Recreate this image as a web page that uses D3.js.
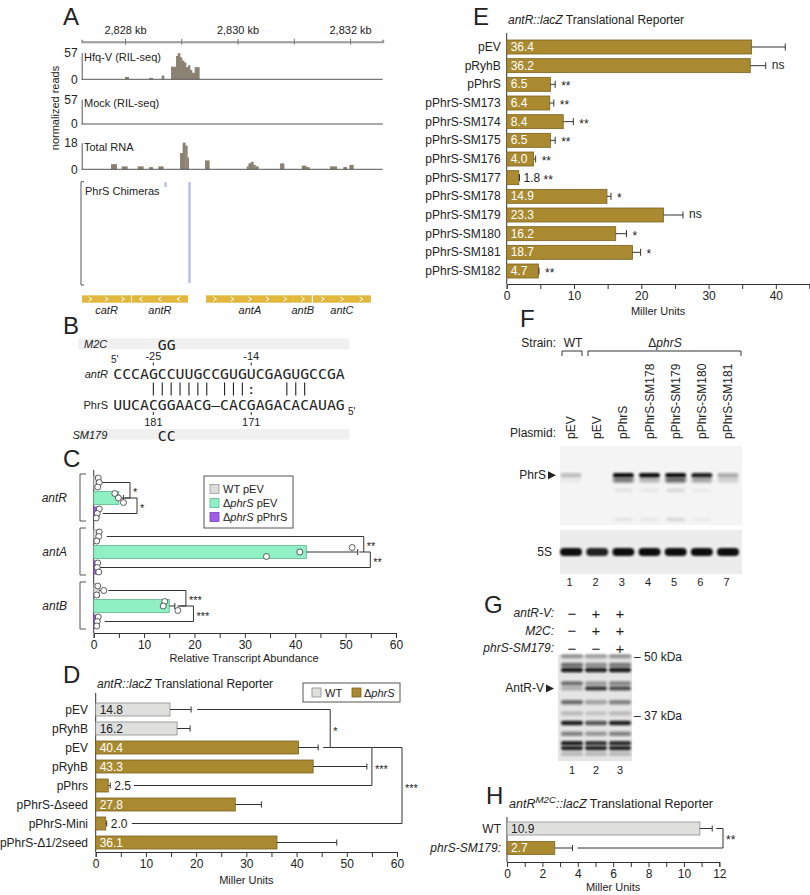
<!DOCTYPE html>
<html><head><meta charset="utf-8">
<script src="https://cdn.jsdelivr.net/npm/d3@7/dist/d3.min.js"></script>
<style>html,body{margin:0;padding:0;background:#fff;}svg{display:block;}</style>
</head><body>
<svg id="fig" width="810" height="895" xmlns="http://www.w3.org/2000/svg"></svg>
<script>
// ================= DATA =================
// Panel A – genome browser
const kbTicks = [2828, 2829, 2830, 2831, 2832];
const kbLabelTicks = [2828, 2830, 2832];
const trackNames = ["Hfq-V (RIL-seq)", "Mock (RIL-seq)", "Total RNA"];
const trackMax = [57, 57, 18];
const hfqStart = [2828.000, 2828.427, 2828.652, 2828.818, 2828.907, 2828.936, 2828.978, 2829.013, 2829.049, 2829.084, 2829.120, 2829.156, 2829.191, 2829.238];
const hfqEnd   = [2828.065, 2828.492, 2828.693, 2828.907, 2828.936, 2828.978, 2829.013, 2829.049, 2829.084, 2829.120, 2829.156, 2829.191, 2829.238, 2829.321];
const hfqReads = [5, 3, 8, 27, 50, 56, 47, 40, 36, 26, 30, 20, 14, 26];
const mockStart = [], mockEnd = [], mockReads = [];
const totStart = [2827.751, 2827.941, 2828.225, 2828.427, 2828.593, 2828.978, 2829.025, 2829.073, 2829.108, 2829.422, 2830.163, 2830.193, 2830.234, 2830.281, 2830.317, 2830.756, 2831.141, 2831.218, 2831.644, 2831.881, 2831.988];
const totEnd   = [2827.852, 2828.041, 2828.326, 2828.492, 2828.681, 2829.025, 2829.073, 2829.108, 2829.132, 2829.499, 2830.193, 2830.234, 2830.281, 2830.317, 2830.370, 2830.827, 2831.218, 2831.277, 2831.763, 2831.941, 2832.059];
const totReads = [3.5, 2, 2, 1.5, 2, 11, 18, 16, 8, 6, 2, 4, 5, 3, 2, 4, 2.5, 1.5, 2, 1.5, 3];
const chimeraKb = [2828.72, 2829.145];
const chimeraCount = [1, 20];
const geneNames = ["catR", "antR", "antA", "antB", "antC"];
const geneStart = [2827.236, 2828.120, 2829.440, 2831.000, 2831.340];
const geneEnd   = [2828.107, 2829.120, 2831.000, 2831.320, 2832.370];
const geneStrand = [1, -1, 1, 1, 1];

// Panel B – base pairing
const seqAntR = "CCCAGCCUUGCCGUGUCGAGUGCCGA";
const seqPhrS = "UUCACGGAACG–CACGAGACACAUAG";
const pairIdx = [4, 5, 6, 7, 8, 9, 10, 12, 13, 14, 19, 20, 21];
const wobbleIdx = [15];
const antRPosIdx = [4, 15], antRPosLab = ["-25", "-14"];
const phrSPosIdx = [4, 15], phrSPosLab = ["181", "171"];
const mutIdx = [5, 6];
const mutM2C = "GG", mutSM179 = "CC";

// Panel C – qRT-PCR
const cGenes = ["antR", "antA", "antB"];
const cSeries = ["WT pEV", "ΔphrS pEV", "ΔphrS pPhrS"];
const cMean = [[1.0, 5.0, 0.8], [0.9, 42.2, 0.8], [1.1, 15.0, 0.7]];
const cErr  = [[0.2, 0.9, 0.3], [0.3, 10.2, 0.2], [0.7, 1.1, 0.2]];
const cPts = [
  [[0.9, 1.1, 0.8], [4.2, 4.9, 5.9], [1.1, 0.7, 0.5]],
  [[1.1, 1.0, 0.6], [51.3, 40.9, 34.3], [0.8, 0.7, 1.0]],
  [[0.8, 2.0, 0.6], [14.1, 13.8, 16.7], [0.9, 0.7, 0.6]]
];
const cTicks = [0, 5, 10, 15, 20, 25, 30, 35, 40, 45, 50, 55, 60];
const cSigGene = ["antR", "antR", "antA", "antA", "antB", "antB"];
const cSigFrom = [0, 1, 0, 1, 0, 1], cSigTo = [1, 2, 1, 2, 1, 2];
const cSigStart = [1.3, 6.2, 2.6, 53.6, 2.9, 17.0];
const cSigRight = [7.2, 8.6, 53.6, 54.9, 18.3, 19.8];
const cSigEnd   = [6.0, 1.8, 52.7, 1.2, 16.6, 2.2];
const cSigLab   = ["*", "*", "**", "**", "***", "***"];

// Panel D – antR::lacZ (WT vs ΔphrS)
const dLabels = ["pEV", "pRyhB", "pEV", "pRyhB", "pPhrs", "pPhrS-Δseed", "pPhrS-Mini", "pPhrS-Δ1/2seed"];
const dStrain = ["WT", "WT", "ΔphrS", "ΔphrS", "ΔphrS", "ΔphrS", "ΔphrS", "ΔphrS"];
const dVals = [14.8, 16.2, 40.4, 43.3, 2.5, 27.8, 2.0, 36.1];
const dErr  = [4.2, 2.6, 3.9, 10.7, 0.4, 5.2, 0.2, 11.9];
const dTicks = [0, 5, 10, 15, 20, 25, 30, 35, 40, 45, 50, 55, 60];
const dSigFrom = [0, 2, 2], dSigTo = [2, 4, 6];
const dSigStart = [20.2, 46.7, 55.0], dSigRight = [46.7, 55.0, 61.0], dSigEnd = [45.3, 7.6, 7.2];
const dSigLab = ["*", "***", "***"];

// Panel E – antR::lacZ with PhrS mutants
const eLabels = ["pEV", "pRyhB", "pPhrS", "pPhrS-SM173", "pPhrS-SM174", "pPhrS-SM175", "pPhrS-SM176", "pPhrS-SM177", "pPhrS-SM178", "pPhrS-SM179", "pPhrS-SM180", "pPhrS-SM181", "pPhrS-SM182"];
const eVals = [36.4, 36.2, 6.5, 6.4, 8.4, 6.5, 4.0, 1.8, 14.9, 23.3, 16.2, 18.7, 4.7];
const eErr  = [5.0, 2.3, 0.7, 0.6, 1.5, 0.7, 0.3, 0.1, 0.6, 2.9, 1.6, 1.2, 0.1];
const eSig  = ["", "ns", "**", "**", "**", "**", "**", "**", "*", "ns", "*", "*", "**"];
const eTicks = [0, 5, 10, 15, 20, 25, 30, 35, 40, 45];

// Panel F – Northern blot
const fLanes = [1, 2, 3, 4, 5, 6, 7];
const fPlasmids = ["pEV", "pEV", "pPhrS", "pPhrS-SM178", "pPhrS-SM179", "pPhrS-SM180", "pPhrS-SM181"];
const fPhrSMain  = [0.22, 0, 1.0, 1.0, 1.0, 0.92, 0.3];
const fPhrSLower = [0.06, 0, 0.7, 0.35, 0.8, 0.45, 0.2];
const fPhrSFaint = [0, 0, 0.1, 0.08, 0.18, 0.06, 0];
const f5S = [1.0, 0.9, 1.0, 1.0, 1.0, 1.0, 1.0];

// Panel G – Western blot
const gLanes = [1, 2, 3];
const gRowNames = ["antR-V:", "M2C:", "phrS-SM179:"];
const gRowSigns = [["−", "+", "+"], ["−", "+", "+"], ["−", "−", "+"]];
const gBandKDa = [50.2, 48.0, 46.8, 43.7, 42.6, 39.7, 37.5, 35.7, 33.8, 32.2, 31.4, 30.5];
const gBandInt = [[0.35, 0.3, 0.35], [0.55, 0.4, 0.5], [0.95, 0.9, 0.95], [0.55, 0.35, 0.45], [0.25, 0.8, 0.7],
                  [0.55, 0.3, 0.45], [0.2, 0.15, 0.2], [0.9, 0.65, 0.9], [0.45, 0.35, 0.45], [0.9, 0.8, 0.85],
                  [0.9, 0.9, 0.9], [0.2, 0.2, 0.2]];
const gMarkers = [50, 37];

// Panel H – antR(M2C)::lacZ
const hLabels = ["WT", "phrS-SM179:"];
const hVals = [10.9, 2.7];
const hErr = [0.7, 1.0];
const hTicks = [0, 1, 2, 3, 4, 5, 6, 7, 8, 9, 10, 11, 12];

// ================= DRAWING =================
const FONT = "'Liberation Sans', Arial, Helvetica, sans-serif";
const MONO = "'DejaVu Sans Mono', 'Liberation Mono', monospace";
const INK = "#222";
const GOLD = "#a98a30", GOLD_S = "#7a6222";
const GRAY = "#dfe0de", GRAY_S = "#8c8c8c";
const svg = d3.select("#fig").attr("font-family", FONT);
svg.append("rect").attr("width", 810).attr("height", 895).attr("fill", "#fff");
const defs = svg.append("defs");
[["blur1", 1.1], ["blur2", 1.7], ["blur3", 3]].forEach(([id, s]) =>
  defs.append("filter").attr("id", id).attr("x", "-50%").attr("y", "-300%").attr("width", "200%").attr("height", "700%")
    .append("feGaussianBlur").attr("stdDeviation", s));

function T(g, x, y, s, o = {}) {
  const t = g.append("text").attr("x", x).attr("y", y).text(s)
    .attr("font-size", o.size || 12).attr("fill", o.fill || INK)
    .attr("text-anchor", o.anchor || "start").attr("dominant-baseline", "central");
  if (o.italic) t.attr("font-style", "italic");
  if (o.weight) t.attr("font-weight", o.weight);
  if (o.family) t.attr("font-family", o.family);
  if (o.rotate) t.attr("transform", `rotate(${o.rotate},${x},${y})`);
  return t;
}
function RT(g, x, y, parts, o = {}) {
  const size = o.size || 12;
  const t = g.append("text").attr("x", x).attr("y", y).attr("font-size", size).attr("fill", o.fill || INK)
    .attr("text-anchor", o.anchor || "start").attr("dominant-baseline", "central");
  parts.forEach(p => {
    const ts = t.append("tspan").text(p.t);
    if (p.i) ts.attr("font-style", "italic");
    if (p.sup) ts.attr("font-size", size * 0.78).attr("dy", -5);
    if (p.down) ts.attr("dy", 5);
  });
  return t;
}
function strainParts(s) { return s === "WT" ? [{t: "WT"}] : [{t: "Δ"}, {t: "phrS", i: true}]; }
function styleAx(ax, size = 12) {
  ax.attr("font-family", FONT).attr("font-size", size);
  ax.select(".domain").attr("stroke", "#333");
  ax.selectAll(".tick line").attr("stroke", "#333");
  ax.selectAll(".tick text").attr("fill", INK);
}
function errBar(g, x0, x1, y, cap = 7) {
  g.append("line").attr("x1", x0).attr("x2", x1).attr("y1", y).attr("y2", y).attr("stroke", "#333");
  g.append("line").attr("x1", x1).attr("x2", x1).attr("y1", y - cap / 2).attr("y2", y + cap / 2).attr("stroke", "#333");
}
function bracket(g, x1, y1, xr, y2, x2, lab, size = 12) {
  g.append("path").attr("d", `M${x1},${y1}H${xr}V${y2}H${x2}`).attr("fill", "none").attr("stroke", "#333");
  T(g, xr + 3, (y1 + y2) / 2 + 2, lab, {size});
}
// panel letters
[["A", 63, 16], ["B", 63, 325], ["C", 63, 458], ["D", 63, 674], ["E", 473, 16], ["F", 520, 318], ["G", 484, 604], ["H", 486, 795]]
  .forEach(([s, x, y]) => T(svg, x, y, s, {size: 24}));

// ---------- Panel A ----------
{
  const g = svg.append("g");
  const xA = d3.scaleLinear().domain([2827.23, 2832.58]).range([81.7, 382.7]);
  const ax = g.append("g").attr("transform", "translate(0,41.7)")
    .call(d3.axisTop(xA).tickValues(kbTicks).tickSizeOuter(0).tickSize(2).tickPadding(6)
      .tickFormat(d => kbLabelTicks.includes(d) ? d3.format(",")(d) + " kb" : ""));
  styleAx(ax, 11);
  ax.select(".domain").attr("stroke", "#9a9a9a").attr("stroke-width", 2);
  ax.selectAll(".tick line").attr("y1", -3).attr("y2", 3).attr("stroke", "#777");

  const base = [79.3, 124, 169.3], top = [52.7, 99.3, 142.7];
  const sets = [[hfqStart, hfqEnd, hfqReads], [mockStart, mockEnd, mockReads], [totStart, totEnd, totReads]];
  trackNames.forEach((name, i) => {
    const y = d3.scaleLinear().domain([0, trackMax[i]]).range([base[i], top[i]]);
    const tg = g.append("g");
    const [s, e, v] = sets[i];
    tg.selectAll("rect").data(s.map((d, k) => ({s: d, e: e[k], v: v[k]}))).join("rect")
      .attr("x", d => xA(d.s)).attr("width", d => xA(d.e) - xA(d.s) + 0.3)
      .attr("y", d => y(d.v)).attr("height", d => y(0) - y(d.v)).attr("fill", "#8b8172");
    tg.append("line").attr("x1", xA.range()[0]).attr("x2", xA.range()[1]).attr("y1", y(0)).attr("y2", y(0)).attr("stroke", "#555");
    const ay = tg.append("g").attr("transform", `translate(${xA.range()[0]},0)`)
      .call(d3.axisLeft(y).tickValues([0, trackMax[i]]).tickSize(0).tickPadding(4));
    styleAx(ay, 12);
    ay.select(".domain").attr("stroke", "#555");
    T(tg, 84, top[i] + 4, name, {size: 11});
  });
  T(g, 55, 108, "normalized reads", {size: 11, anchor: "middle", rotate: -90});

  // chimeras
  const yCh = d3.scaleLinear().domain([0, 20]).range([182, 283]);
  g.append("path").attr("d", "M84,181.7H81V285H84").attr("fill", "none").attr("stroke", "#555");
  T(g, 85, 191, "PhrS Chimeras", {size: 11});
  g.selectAll("rect.ch").data(chimeraKb.map((k, i) => ({k, c: chimeraCount[i]}))).join("rect").attr("class", "ch")
    .attr("x", d => xA(d.k) - 1.2).attr("width", 2.4).attr("y", yCh(0)).attr("height", d => yCh(d.c) - yCh(0))
    .attr("fill", "#b8bee0");

  // genes
  const genes = geneNames.map((n, i) => ({n, s: geneStart[i], e: geneEnd[i], st: geneStrand[i]}));
  const gy = 295.3, gh = 7.4;
  g.selectAll("rect.gene").data(genes).join("rect").attr("class", "gene")
    .attr("x", d => xA(d.s)).attr("width", d => xA(d.e) - xA(d.s)).attr("y", gy).attr("height", gh).attr("fill", "#e1b83c");
  genes.forEach(d => {
    const x0 = xA(d.s), w = xA(d.e) - xA(d.s), n = Math.max(1, Math.round(w / 17));
    for (let k = 0; k < n; k++) {
      const cx = x0 + (k + 0.5) * w / n, dx = 1.6 * d.st;
      g.append("path").attr("d", `M${cx - dx},${gy + 1.6}L${cx + dx},${gy + gh / 2}L${cx - dx},${gy + gh - 1.6}`)
        .attr("fill", "none").attr("stroke", "#fff").attr("stroke-width", 1);
    }
    T(g, x0 + w / 2, 310, d.n, {size: 11, italic: true, anchor: "middle"});
  });
}

// ---------- Panel B ----------
{
  const g = svg.append("g");
  const xB = d3.scaleBand().domain(d3.range(seqAntR.length)).range([113.3, 344.7]);
  const bw = xB.bandwidth();
  const cx = i => xB(i) + bw / 2;
  const seqText = (x, y, s) => g.append("text").attr("x", x).attr("y", y).text(s)
    .attr("font-family", MONO).attr("font-size", 14.8).attr("fill", INK).attr("dominant-baseline", "central")
    .attr("textLength", s.length * bw).attr("lengthAdjust", "spacing");
  g.append("rect").attr("x", 78.3).attr("y", 338.3).attr("width", 271).attr("height", 11).attr("fill", "#eff0ef");
  g.append("rect").attr("x", 78.3).attr("y", 429).attr("width", 271).attr("height", 10.5).attr("fill", "#eff0ef");
  T(g, 107.3, 344, "M2C", {size: 11, italic: true, anchor: "end"});
  T(g, 107.3, 434.5, "SM179", {size: 11, italic: true, anchor: "end"});
  seqText(xB(mutIdx[0]), 344.5, mutM2C);
  seqText(xB(mutIdx[0]), 435, mutSM179);
  seqText(xB(0), 373, seqAntR);
  seqText(xB(0), 404, seqPhrS);
  T(g, 108, 373.5, "antR", {size: 11, italic: true, anchor: "end"});
  T(g, 108, 404.5, "PhrS", {size: 11, anchor: "end"});
  T(g, 111, 359.5, "5'", {size: 10});
  T(g, 348, 411, "5'", {size: 10});
  pairIdx.forEach(i => g.append("line").attr("x1", cx(i)).attr("x2", cx(i)).attr("y1", 382.5).attr("y2", 395.5).attr("stroke", INK).attr("stroke-width", 1.1));
  wobbleIdx.forEach(i => T(g, cx(i), 389, ":", {size: 13, anchor: "middle", weight: "bold"}));
  antRPosIdx.forEach((i, k) => {
    g.append("line").attr("x1", cx(i)).attr("x2", cx(i)).attr("y1", 362.5).attr("y2", 365.5).attr("stroke", INK);
    T(g, cx(i), 356, antRPosLab[k], {size: 11, anchor: "middle"});
  });
  phrSPosIdx.forEach((i, k) => {
    g.append("line").attr("x1", cx(i)).attr("x2", cx(i)).attr("y1", 412).attr("y2", 415).attr("stroke", INK);
    T(g, cx(i), 422, phrSPosLab[k], {size: 11, anchor: "middle"});
  });
}

// ---------- Panel C ----------
{
  const g = svg.append("g");
  const xC = d3.scaleLinear().domain([0, 60]).range([93.7, 396]);
  const yG = d3.scalePoint().domain(cGenes).range([498, 606]);
  const yS = d3.scalePoint().domain(d3.range(3)).range([-15.5, 15.5]);
  const fills = ["#dcdedc", "#8ff0c3", "#a05ee6"], strokes = ["#9a9a9a", "#5fb58e", "#7b3fc4"];
  const jit = [-4.5, 0, 4.5];
  const ax = g.append("g").attr("transform", "translate(0,633)")
    .call(d3.axisBottom(xC).tickValues(cTicks).tickSizeOuter(0).tickSize(5).tickPadding(2).tickFormat(d => d % 10 === 0 ? d : ""));
  styleAx(ax, 12);
  g.append("line").attr("x1", 93.7).attr("x2", 93.7).attr("y1", 470).attr("y2", 633).attr("stroke", "#333");
  cGenes.forEach((gn, gi) => {
    const yc = yG(gn);
    g.append("path").attr("d", `M86,${yc - 24}H80V${yc + 23}H86`).attr("fill", "none").attr("stroke", "#555");
    T(g, 67, yc, gn, {size: 12, italic: true, anchor: "end"});
    cSeries.forEach((s, si) => {
      const y = yc + yS(si);
      g.append("rect").attr("x", xC(0)).attr("y", y - 6.5).attr("width", xC(cMean[gi][si]) - xC(0)).attr("height", 13)
        .attr("fill", fills[si]).attr("stroke", strokes[si]).attr("stroke-width", 0.8);
      errBar(g, xC(cMean[gi][si]), xC(cMean[gi][si] + cErr[gi][si]), y, 6);
    });
  });
  cSigLab.forEach((lab, k) => {
    const yc = yG(cSigGene[k]);
    bracket(g, xC(cSigStart[k]), yc + yS(cSigFrom[k]), xC(cSigRight[k]), yc + yS(cSigTo[k]), xC(cSigEnd[k]), lab, 11);
  });
  cGenes.forEach((gn, gi) => cSeries.forEach((s, si) => cPts[gi][si].forEach((p, k) =>
    g.append("circle").attr("cx", xC(p)).attr("cy", yG(gn) + yS(si) + jit[k]).attr("r", 3)
      .attr("fill", "#fff").attr("stroke", "#333").attr("stroke-width", 0.8))));
  // legend
  g.append("rect").attr("x", 204).attr("y", 476).attr("width", 89).attr("height", 52).attr("fill", "#fff").attr("stroke", "#555");
  cSeries.forEach((s, si) => {
    const y = 489 + si * 14;
    g.append("rect").attr("x", 210).attr("y", y - 4.5).attr("width", 9).attr("height", 9).attr("fill", fills[si]).attr("stroke", strokes[si]).attr("stroke-width", 0.8);
    const parts = si === 0 ? [{t: "WT pEV"}] : [{t: "Δ"}, {t: "phrS", i: true}, {t: si === 1 ? " pEV" : " pPhrS"}];
    RT(g, 223, y, parts, {size: 11});
  });
  T(g, 244, 658, "Relative Transcript Abundance", {size: 11, anchor: "middle"});
}

// ---------- Panel D ----------
{
  const g = svg.append("g");
  const xD = d3.scaleLinear().domain([0, 60]).range([95.7, 397]);
  const yD = d3.scalePoint().domain(d3.range(dLabels.length)).range([709.5, 842.5]);
  const axY = 852;
  RT(g, 97, 684, [{t: "antR::lacZ", i: true}, {t: " Translational Reporter"}], {size: 12});
  g.append("rect").attr("x", 303).attr("y", 683).attr("width", 97).attr("height", 19).attr("fill", "#fff").attr("stroke", "#555");
  g.append("rect").attr("x", 312).attr("y", 688).attr("width", 9).attr("height", 9).attr("fill", GRAY).attr("stroke", GRAY_S).attr("stroke-width", 0.8);
  T(g, 325, 692.5, "WT", {size: 11});
  g.append("rect").attr("x", 352).attr("y", 688).attr("width", 9).attr("height", 9).attr("fill", GOLD).attr("stroke", GOLD_S).attr("stroke-width", 0.8);
  RT(g, 364, 692.5, strainParts("ΔphrS"), {size: 11});
  const ax = g.append("g").attr("transform", `translate(0,${axY})`)
    .call(d3.axisBottom(xD).tickValues(dTicks).tickSizeOuter(0).tickSize(5).tickPadding(2).tickFormat(d => d % 10 === 0 ? d : ""));
  styleAx(ax, 12);
  g.append("line").attr("x1", xD(0)).attr("x2", xD(0)).attr("y1", 693).attr("y2", axY).attr("stroke", "#333");
  dLabels.forEach((lab, i) => {
    const y = yD(i), wt = dStrain[i] === "WT";
    T(g, 88, y, lab, {size: 12, anchor: "end"});
    g.append("rect").attr("x", xD(0)).attr("y", y - 6.5).attr("width", xD(dVals[i]) - xD(0)).attr("height", 13)
      .attr("fill", wt ? GRAY : GOLD).attr("stroke", wt ? GRAY_S : GOLD_S).attr("stroke-width", 0.8);
    errBar(g, xD(dVals[i]), xD(dVals[i] + dErr[i]), y, 6);
    if (dVals[i] < 5) T(g, xD(dVals[i] + dErr[i]) + 4, y, dVals[i].toFixed(1), {size: 12});
    else T(g, xD(0) + 4, y, dVals[i].toFixed(1), {size: 12, fill: wt ? INK : "#fff"});
  });
  dSigLab.forEach((lab, k) => bracket(g, xD(dSigStart[k]), yD(dSigFrom[k]), xD(dSigRight[k]), yD(dSigTo[k]), xD(dSigEnd[k]), lab, 11));
  T(g, xD(30), 880, "Miller Units", {size: 11, anchor: "middle"});
}

// ---------- Panel E ----------
{
  const g = svg.append("g");
  const xE = d3.scaleLinear().domain([0, 45]).range([506.7, 809.5]);
  const yE = d3.scalePoint().domain(eLabels).range([47, 271]);
  const axY = 284;
  RT(g, 508, 20, [{t: "antR::lacZ", i: true}, {t: " Translational Reporter"}], {size: 12});
  const ax = g.append("g").attr("transform", `translate(0,${axY})`)
    .call(d3.axisBottom(xE).tickValues(eTicks).tickSizeOuter(0).tickSize(5).tickPadding(2).tickFormat(d => d % 10 === 0 ? d : ""));
  styleAx(ax, 12);
  g.append("line").attr("x1", xE(0)).attr("x2", xE(0)).attr("y1", 33).attr("y2", axY).attr("stroke", "#333");
  eLabels.forEach((lab, i) => {
    const y = yE(lab);
    T(g, 500.7, y, lab, {size: 12, anchor: "end"});
    g.append("rect").attr("x", xE(0)).attr("y", y - 7).attr("width", xE(eVals[i]) - xE(0)).attr("height", 14)
      .attr("fill", GOLD).attr("stroke", GOLD_S).attr("stroke-width", 0.8);
    const xe = xE(eVals[i] + eErr[i]);
    errBar(g, xE(eVals[i]), xe, y, 7);
    let sx = xe + 6;
    if (eVals[i] < 3) { T(g, xe + 4, y, eVals[i].toFixed(1), {size: 12}); sx = xe + 24; }
    else T(g, xE(0) + 4, y, eVals[i].toFixed(1), {size: 12, fill: "#fff"});
    if (eSig[i]) T(g, sx, y + (eSig[i] === "ns" ? -1 : 2), eSig[i], {size: 12});
  });
  T(g, xE(22.5), 311, "Miller Units", {size: 11, anchor: "middle"});
}

// ---------- Panel F ----------
{
  const g = svg.append("g");
  const xF = d3.scalePoint().domain(fLanes).range([571, 728]);
  T(g, 556, 343, "Strain:", {size: 12, anchor: "end"});
  T(g, 573, 343, "WT", {size: 12, anchor: "middle"});
  RT(g, 665, 343, strainParts("ΔphrS"), {size: 12, anchor: "middle"});
  g.append("path").attr("d", "M562,356V351H582V356").attr("fill", "none").attr("stroke", "#333");
  g.append("path").attr("d", "M588,356V351H741V356").attr("fill", "none").attr("stroke", "#333");
  T(g, 556, 433, "Plasmid:", {size: 12, anchor: "end"});
  fPlasmids.forEach((p, i) => T(g, xF(fLanes[i]), 439, p, {size: 12, rotate: -90}));
  // gel 1
  const yF = d3.scaleLinear().domain([0, 1]).range([446, 525]);
  g.append("rect").attr("x", 560).attr("y", yF(0)).attr("width", 182).attr("height", yF(1) - yF(0)).attr("fill", "#f4f4f4");
  const band = (x, y, w, h, a, f) => g.append("rect").attr("x", x - w / 2).attr("y", y - h / 2).attr("width", w).attr("height", h)
    .attr("rx", h / 2).attr("fill", "#111").attr("opacity", a).attr("filter", `url(#${f})`);
  fLanes.forEach((l, i) => {
    if (fPhrSLower[i] > 0) band(xF(l), yF(0.43), 21, 5, fPhrSLower[i] * 0.8, "blur2");
    if (fPhrSMain[i] > 0) band(xF(l), yF(0.37), 21, 4.5, fPhrSMain[i], "blur1");
    if (fPhrSFaint[i] > 0) { band(xF(l), yF(0.56), 18, 2.5, fPhrSFaint[i], "blur2"); band(xF(l), yF(0.93), 18, 2.5, fPhrSFaint[i], "blur2"); }
  });
  T(g, 546, yF(0.37), "PhrS", {size: 12, anchor: "end"});
  g.append("path").attr("d", `M548,${yF(0.37) - 4}L556,${yF(0.37)}L548,${yF(0.37) + 4}Z`).attr("fill", INK);
  // gel 2 (5S)
  g.append("rect").attr("x", 560).attr("y", 530).attr("width", 182).attr("height", 44).attr("fill", "#ececec");
  fLanes.forEach((l, i) => band(xF(l), 552, 22, 8, f5S[i], "blur1"));
  T(g, 552, 552, "5S", {size: 12, anchor: "end"});
  fLanes.forEach(l => T(g, xF(l) - 1.5, 582, l, {size: 11, anchor: "middle"}));
}

// ---------- Panel G ----------
{
  const g = svg.append("g");
  const xG = d3.scalePoint().domain(gLanes).range([572, 620]);
  const yK = d3.scaleLog().domain([50, 37]).range([657, 716]);
  gRowNames.forEach((n, r) => {
    const y = 613 + r * 17.5;
    T(g, 554, y, n, {size: 12, italic: true, anchor: "end"});
    gRowSigns[r].forEach((s, l) => T(g, xG(gLanes[l]), y, s, {size: 15, anchor: "middle"}));
  });
  g.append("rect").attr("x", 558).attr("y", yK(50.6)).attr("width", 74).attr("height", yK(29.4) - yK(50.6)).attr("fill", "#e5e5e5");
  gBandKDa.forEach((k, b) => gLanes.forEach((l, i) =>
    g.append("rect").attr("x", xG(l) - 11).attr("y", yK(k) - 2.2).attr("width", 22).attr("height", 4.4).attr("rx", 2)
      .attr("fill", "#111").attr("opacity", gBandInt[b][i]).attr("filter", "url(#blur1)")));
  gMarkers.forEach(m => T(g, 634, yK(m), "– " + m + " kDa", {size: 12}));
  T(g, 544, yK(42.6), "AntR-V", {size: 12, anchor: "end"});
  g.append("path").attr("d", `M546,${yK(42.6) - 4}L554,${yK(42.6)}L546,${yK(42.6) + 4}Z`).attr("fill", INK);
  gLanes.forEach(l => T(g, xG(l), 770, l, {size: 11, anchor: "middle"}));
}

// ---------- Panel H ----------
{
  const g = svg.append("g");
  const xH = d3.scaleLinear().domain([0, 12]).range([507, 719.3]);
  const yH = d3.scalePoint().domain(hLabels).range([828.5, 848]);
  const axY = 862;
  RT(g, 509, 804, [{t: "antR", i: true}, {t: "M2C", i: true, sup: true}, {t: "::lacZ", i: true, down: true}, {t: " Translational Reporter"}], {size: 12.5});
  const ax = g.append("g").attr("transform", `translate(0,${axY})`)
    .call(d3.axisBottom(xH).tickValues(hTicks).tickSizeOuter(0).tickSize(5).tickPadding(2).tickFormat(d => d % 2 === 0 ? d : ""));
  styleAx(ax, 12);
  g.append("line").attr("x1", xH(0)).attr("x2", xH(0)).attr("y1", 817).attr("y2", axY).attr("stroke", "#333");
  hLabels.forEach((lab, i) => {
    const y = yH(lab), wt = i === 0;
    T(g, 501, y, lab, {size: 12, anchor: "end", italic: !wt});
    g.append("rect").attr("x", xH(0)).attr("y", y - 6.5).attr("width", xH(hVals[i]) - xH(0)).attr("height", 13)
      .attr("fill", wt ? GRAY : GOLD).attr("stroke", wt ? GRAY_S : GOLD_S).attr("stroke-width", 0.8);
    errBar(g, xH(hVals[i]), xH(hVals[i] + hErr[i]), y, 6);
    T(g, xH(0) + 4, y, hVals[i].toFixed(1), {size: 12, fill: wt ? INK : "#fff"});
  });
  bracket(g, xH(hVals[0] + hErr[0]) + 4, yH(hLabels[0]), 723, yH(hLabels[1]), xH(hVals[1] + hErr[1]) + 5, "**", 12);
  T(g, xH(6), 887, "Miller Units", {size: 11, anchor: "middle"});
}
</script>
</body></html>
